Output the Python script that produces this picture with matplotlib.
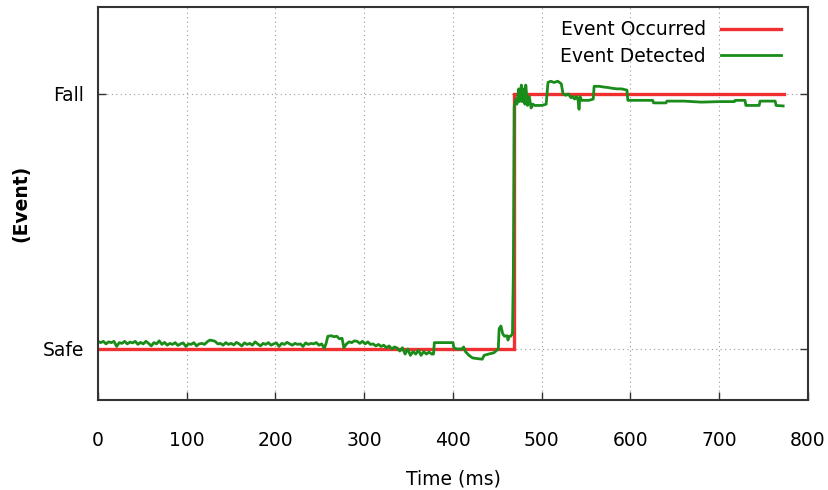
import matplotlib
matplotlib.use("Agg")
import matplotlib.pyplot as plt

# Event occurred (ground truth)
occ_t = [0, 469, 469, 773]
occ_v = [0, 0, 1, 1]

# Event detected; 0 = Safe, 1 = Fall
det_t = [0, 3, 6, 9, 12, 15, 18, 21, 24, 27, 30, 33, 36, 39, 42, 45, 48, 51, 54, 57,
         60, 63, 66, 69, 72, 75, 78, 81, 84, 87, 90, 93, 96, 99, 102, 105, 108, 111, 114, 117,
         120, 123, 126, 129, 132, 135, 138, 141, 144, 147, 150, 153, 156, 159, 162, 165, 168, 171, 174, 177,
         180, 183, 186, 189, 192, 195, 198, 201, 204, 207, 210, 213, 216, 219, 222, 225, 228, 231, 234, 237,
         240, 243, 246, 249, 252, 255, 257, 259, 263, 266, 269, 272, 275, 277, 280, 283, 286, 289, 292, 295,
         298, 301, 304, 307, 310, 313, 316, 319, 322, 325, 328, 331, 334, 337, 340, 343, 346, 349, 352, 355,
         358, 361, 364, 367, 370, 373, 376, 378, 379, 400, 401, 404, 410, 412, 414, 418, 422, 428, 433, 435,
         440, 446, 451, 452, 454, 456, 458, 461, 462, 463, 465, 467, 468, 469, 471, 472, 474, 475, 477, 478,
         479, 481, 482, 484, 486, 488, 490, 492, 496, 500, 505, 507, 510, 514, 518, 522, 524, 527, 530, 533,
         535, 537, 539, 541, 542, 543, 545, 549, 553, 558, 559, 565, 570, 575, 580, 585, 590, 596, 597, 610,
         625, 626, 640, 641, 660, 680, 700, 717, 718, 729, 730, 745, 746, 763, 764, 772]
det_v = [0.03, 0.025, 0.03, 0.02, 0.028, 0.025, 0.03, 0.01, 0.025, 0.022, 0.03, 0.02, 0.027, 0.024, 0.03, 0.018, 0.026, 0.02, 0.03, 0.022,
         0.012, 0.025, 0.02, 0.032, 0.018, 0.026, 0.015, 0.022, 0.018, 0.025, 0.014, 0.02, 0.024, 0.01, 0.02, 0.018, 0.025, 0.012, 0.02, 0.022,
         0.018, 0.028, 0.035, 0.033, 0.03, 0.02, 0.022, 0.015, 0.025, 0.018, 0.022, 0.016, 0.026, 0.02, 0.012, 0.024, 0.018, 0.022, 0.015, 0.028,
         0.02, 0.012, 0.022, 0.018, 0.025, 0.015, 0.02, 0.024, 0.01, 0.022, 0.018, 0.026, 0.02, 0.015, 0.022, 0.018, 0.02, 0.01, 0.024, 0.018,
         0.022, 0.02, 0.025, 0.015, 0.02, 0.003, 0.022, 0.05, 0.052, 0.048, 0.05, 0.04, 0.042, 0.005, 0.02, 0.028, 0.025, 0.032, 0.03, 0.022,
         0.03, 0.02, 0.028, 0.018, 0.02, 0.012, 0.018, 0.01, 0.015, 0.005, 0.012, 0.0, 0.008, 0.004, -0.008, 0.005, -0.02, 0.0, -0.025, -0.01,
         -0.02, -0.005, -0.025, -0.01, -0.02, -0.012, -0.02, -0.02, 0.025, 0.025, 0.005, 0.0, 0.0, 0.008, -0.01, -0.025, -0.035, -0.038, -0.04, -0.025,
         -0.02, -0.015, 0.0, 0.08, 0.09, 0.06, 0.05, 0.052, 0.035, 0.05, 0.05, 0.06, 0.3, 0.95, 0.98, 0.96, 1.02, 0.97, 1.035, 0.97,
         1.02, 0.96, 1.035, 0.955, 0.99, 0.945, 0.96, 0.955, 0.955, 0.955, 0.96, 1.045, 1.05, 1.045, 1.05, 1.04, 1.0, 0.995, 1.0, 0.985,
         0.99, 0.98, 0.99, 0.975, 0.94, 0.99, 0.975, 0.975, 0.975, 0.98, 1.03, 1.03, 1.027, 1.025, 1.022, 1.02, 1.02, 1.015, 0.975, 0.975,
         0.975, 0.965, 0.965, 0.972, 0.972, 0.968, 0.97, 0.97, 0.975, 0.975, 0.955, 0.955, 0.972, 0.972, 0.955, 0.953]

y_ticks = [0, 1]
y_ticklabels = ["Safe", "Fall"]
x_ticks = [0, 100, 200, 300, 400, 500, 600, 700, 800]

plt.rcParams['font.family'] = ['DejaVu Sans']
fig = plt.figure(figsize=(8.29, 4.90), dpi=100)
ax = fig.add_axes([98/829, 1 - 400/490, 710/829, 393/490])

ax.plot(occ_t, occ_v, color='#f03030', lw=2.4, label='Event Occurred', solid_joinstyle='miter')
ax.plot(det_t, det_v, color='#1a8c1a', lw=2.0, label='Event Detected')

ax.set_xlim(0, 800)
ax.set_ylim(-0.2, 1.341)
ax.set_xticks(x_ticks)
ax.set_yticks(y_ticks)
ax.set_yticklabels(y_ticklabels)
ax.tick_params(direction='in', length=6, width=1, color='#333333', top=False, right=True,
               labelsize=13.5)
ax.tick_params(axis='x', pad=22)
ax.tick_params(axis='y', pad=10)
ax.grid(True, color='#999999', linestyle=(0, (1, 3)), linewidth=0.8)
for s in ax.spines.values():
    s.set_color('#333333')
    s.set_linewidth(1.5)

ax.set_xlabel('Time (ms)', fontsize=13.5, labelpad=14)
ax.set_ylabel('(Event)', fontsize=13.5, fontweight='bold', labelpad=9)

leg = ax.legend(loc='upper right', frameon=False, markerfirst=False, fontsize=13.5,
                handlelength=3.2, handletextpad=0.8, borderaxespad=0.3, labelspacing=0.4,
                bbox_to_anchor=(0.98, 1.0))
for t in leg.get_texts():
    t.set_ha('right')

fig.savefig('out.png', dpi=100)
